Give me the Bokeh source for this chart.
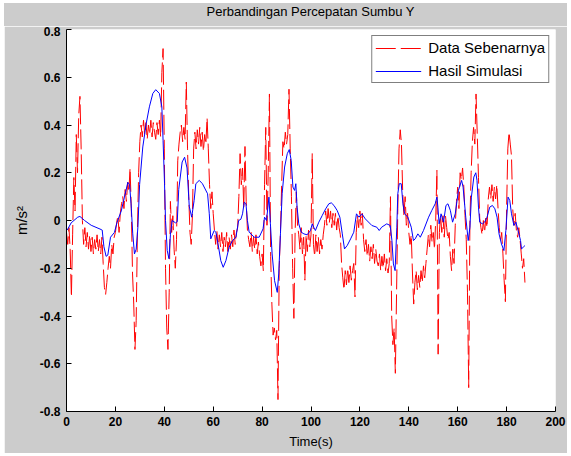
import numpy as np
from bokeh.plotting import figure
from bokeh.models import Range1d, FixedTicker, Legend, LegendItem, Spacer, Div
from bokeh.layouts import column, row
from bokeh.embed import file_html
from bokeh.resources import INLINE

title_text = "Perbandingan Percepatan Sumbu Y"
x_label = "Time(s)"
y_label = "m/s²"
series_names = ["Data Sebenarnya", "Hasil Simulasi"]
x_ticks = [0, 20, 40, 60, 80, 100, 120, 140, 160, 180, 200]
y_ticks = [-0.8, -0.6, -0.4, -0.2, 0.0, 0.2, 0.4, 0.6, 0.8]
y_tick_labels = ["-0.8", "-0.6", "-0.4", "-0.2", "0", "0.2", "0.4", "0.6", "0.8"]

# measured data ("Data Sebenarnya"), one sample every 0.5 s starting at t = 0
red_step = 0.5
red_value = [
    -0.05, -0.10, -0.03, -0.12, -0.32, -0.06, 0.18, 0.04, 0.36, 0.20,
    0.44, 0.52, 0.30, 0.00, -0.10, -0.03, -0.11, -0.05, -0.12, -0.06,
    -0.13, -0.07, -0.14, -0.08, -0.12, -0.06, -0.13, -0.08, -0.14, -0.07,
    -0.18, -0.28, -0.31, -0.26, -0.20, -0.15, -0.20, -0.10, -0.14, -0.07,
    -0.05, -0.01, 0.02, -0.05, 0.03, 0.07, 0.10, 0.05, 0.13, 0.08,
    0.16, 0.12, 0.22, 0.05, -0.22, -0.35, -0.54, -0.42, -0.05, 0.20,
    0.33, 0.40, 0.35, 0.42, 0.36, 0.41, 0.34, 0.40, 0.36, 0.42,
    0.35, 0.41, 0.37, 0.34, 0.41, 0.36, 0.42, 0.35, 0.62, 0.72,
    0.30, -0.20, -0.45, -0.54, -0.30, 0.08, -0.05, 0.02, -0.12, -0.20,
    -0.08, 0.25, 0.32, 0.37, 0.40, 0.33, 0.39, 0.34, 0.58, 0.30,
    0.10, -0.05, -0.10, 0.02, 0.30, 0.37, 0.30, 0.38, 0.32, 0.39,
    0.31, 0.37, 0.29, 0.36, 0.32, 0.43, 0.30, 0.15, 0.05, 0.12,
    0.03, -0.04, -0.10, -0.04, -0.12, -0.06, -0.11, -0.05, -0.13, -0.07,
    -0.11, -0.05, -0.13, -0.07, -0.12, -0.06, -0.11, -0.04, -0.10, -0.05,
    -0.03, 0.10, 0.28, 0.15, 0.22, 0.05, 0.31, 0.08, -0.04, -0.08,
    -0.11, -0.05, -0.13, -0.07, -0.12, -0.06, -0.14, -0.09, -0.15, -0.19,
    -0.14, -0.21, 0.15, 0.39, -0.02, 0.20, 0.53, -0.15, -0.35, -0.48,
    -0.45, -0.50, -0.46, -0.75, -0.20, -0.05, 0.15, 0.33, 0.30, 0.37,
    0.32, 0.36, 0.55, 0.30, 0.10, -0.20, -0.41, -0.05, 0.12, -0.02,
    -0.06, -0.12, -0.03, -0.14, -0.07, -0.25, -0.06, -0.13, -0.04, -0.11,
    -0.06, 0.28, -0.10, -0.15, -0.06, -0.13, -0.07, -0.14, -0.08, -0.12,
    -0.06, -0.02, 0.04, -0.02, 0.05, -0.01, 0.04, -0.03, 0.03, -0.02,
    0.03, -0.04, 0.02, -0.03, -0.06, -0.18, -0.24, -0.29, -0.21, -0.27,
    -0.20, -0.26, -0.19, -0.25, -0.21, -0.18, -0.32, -0.05, 0.02, -0.03,
    0.04, -0.02, 0.03, -0.08, -0.13, -0.08, -0.15, -0.10, -0.17, -0.11,
    -0.16, -0.10, -0.18, -0.12, -0.17, -0.19, -0.14, -0.21, -0.15, -0.20,
    -0.14, -0.21, -0.16, -0.22, -0.18, 0.10, -0.40, -0.52, -0.45, -0.64,
    -0.30, 0.05, 0.30, 0.38, 0.32, 0.12, 0.02, 0.10, -0.02, 0.03,
    -0.05, -0.10, -0.06, -0.22, -0.35, -0.26, -0.21, -0.29, -0.23, -0.28,
    -0.21, -0.26, -0.19, -0.24, -0.18, -0.12, -0.06, -0.11, -0.02, -0.09,
    -0.05, -0.12, 0.00, 0.21, -0.56, -0.05, 0.02, -0.05, 0.02, -0.07,
    0.02, -0.03, -0.08, -0.05, -0.15, -0.21, -0.12, -0.18, -0.02, 0.08,
    0.14, 0.05, 0.20, 0.17, 0.22, 0.14, 0.02, -0.08, -0.30, -0.70,
    0.00, 0.20, 0.33, 0.39, 0.32, 0.53, 0.36, 0.18, 0.01, -0.03,
    -0.06, 0.00, -0.05, 0.01, -0.03, 0.09, 0.14, 0.09, 0.15, 0.08,
    0.14, 0.09, 0.15, 0.05, -0.03, -0.08, -0.05, -0.14, -0.25, -0.34,
    0.05, 0.30, 0.37, 0.32, 0.27, 0.05, -0.02, 0.03, -0.04, -0.07,
    -0.03, -0.08, -0.14, -0.20, -0.16, -0.26,
]

# simulation result ("Hasil Simulasi")
blue_time = [
    0.3, 1.9, 4.6, 5.5, 7.4, 10.1, 14.2, 14.6, 15.3, 16.2,
    16.9, 18.0, 19.6, 20.7, 22.4, 23.7, 25.1, 25.8, 26.4, 27.1,
    27.8, 28.5, 29.2, 29.9, 31.2, 32.6, 33.9, 35.3, 36.5, 38.0,
    39.0, 39.5, 40.1, 40.5, 41.2, 41.9, 42.5, 43.2, 44.6, 45.3,
    45.9, 47.3, 48.3, 49.3, 50.2, 51.2, 52.2, 52.9, 54.3, 55.6,
    57.7, 58.4, 59.0, 60.4, 61.1, 62.2, 63.1, 64.1, 65.2, 66.5,
    67.9, 69.3, 70.4, 71.3, 72.0, 72.7, 73.4, 74.0, 74.7, 76.8,
    78.8, 80.4, 81.0, 81.8, 82.8, 83.4, 84.1, 85.1, 86.2, 86.8,
    87.5, 88.2, 89.2, 90.3, 91.1, 91.9, 92.6, 93.3, 93.8, 94.3,
    95.0, 96.0, 97.1, 98.4, 99.8, 100.5, 101.1, 101.8, 103.2, 104.6,
    106.0, 107.3, 108.3, 109.4, 110.7, 111.8, 112.8, 113.7, 114.8, 116.2,
    117.5, 118.6, 119.6, 120.8, 122.2, 124.9, 126.9, 127.9, 128.9, 131.0,
    132.4, 133.1, 133.7, 134.4, 135.1, 135.5, 136.1, 136.9, 137.6, 138.3,
    139.6, 141.0, 141.9, 142.6, 143.7, 144.7, 146.0, 148.1, 149.4, 150.8,
    151.5, 151.9, 152.4, 153.2, 154.2, 155.2, 156.0, 157.0, 157.9, 159.0,
    160.3, 161.6, 162.2, 163.3, 164.3, 165.0, 165.6, 166.6, 167.4, 167.9,
    168.5, 169.0, 170.1, 171.0, 172.0, 173.1, 174.2, 175.2, 176.1, 176.9,
    177.9, 178.9, 179.7, 180.6, 181.3, 182.0, 183.0, 183.8, 184.7, 185.7,
    186.1, 186.8, 187.5,
]
blue_value = [
    -0.04, -0.01, 0.014, 0.017, 0.0, -0.02, -0.038, -0.04, -0.11, -0.15,
    -0.145, -0.07, -0.05, -0.007, 0.04, 0.098, 0.16, 0.15, 0.07, -0.056,
    -0.14, -0.12, -0.028, 0.15, 0.308, 0.406, 0.476, 0.532, 0.548, 0.532,
    0.476, 0.336, 0.154, 0.0, -0.126, -0.16, -0.06, 0.0, -0.01, -0.005,
    0.13, 0.245, 0.265, 0.22, 0.06, 0.014, 0.084, 0.154, 0.168, 0.154,
    0.112, 0.028, -0.077, -0.042, -0.049, -0.112, -0.168, -0.196, -0.168, -0.112,
    -0.084, -0.07, 0.0, 0.005, 0.028, 0.077, 0.07, 0.0, -0.049, -0.07,
    -0.07, -0.035, 0.014, 0.0, 0.098, -0.014, -0.14, -0.252, -0.301, -0.224,
    -0.056, 0.112, 0.224, 0.28, 0.297, 0.252, 0.14, 0.126, 0.154, 0.056,
    -0.014, -0.049, -0.056, -0.06, -0.042, -0.014, -0.028, -0.042, -0.007, 0.021,
    0.049, 0.07, 0.074, 0.063, 0.042, 0.014, -0.056, -0.119, -0.105, -0.077,
    -0.049, 0.028, 0.014, 0.028, 0.007, -0.021, -0.028, -0.042, -0.028, -0.014,
    -0.021, -0.084, -0.182, -0.21, -0.028, 0.112, 0.154, 0.154, 0.07, 0.028,
    0.014, -0.028, -0.084, -0.077, -0.056, -0.07, -0.042, 0.014, 0.042, 0.07,
    0.098, 0.056, -0.014, 0.028, -0.007, 0.063, 0.07, 0.042, -0.007, 0.028,
    0.126, 0.168, 0.14, 0.014, -0.084, -0.028, 0.098, 0.182, 0.2, 0.168,
    0.056, -0.007, -0.014, -0.007, 0.014, 0.056, 0.063, 0.049, 0.014, -0.056,
    -0.098, -0.126, -0.042, 0.098, 0.084, 0.028, -0.021, -0.007, -0.042, -0.084,
    -0.119, -0.112, -0.105,
]

red_time = np.arange(len(red_value)) * red_step

FONT = "Liberation Sans"

p = figure(
    width=563, height=427,
    x_range=Range1d(0, 200), y_range=Range1d(-0.8, 0.8),
    output_backend="svg", toolbar_location=None,
    min_border_left=62, min_border_right=12, min_border_top=3, min_border_bottom=42,
    background_fill_color="white", border_fill_color="#cccccc",
    outline_line_color=None,
)

# title in a grey strip above the plot, centred over the plot frame
title_div = Div(
    text=title_text, width=563, height=23, margin=0,
    styles={
        "background-color": "#cccccc",
        "font-family": FONT,
        "font-size": "13px",
        "color": "black",
        "text-align": "center",
        "line-height": "18px",
        "padding-left": "50px",
        "box-sizing": "border-box",
    },
)

p.xgrid.visible = False
p.ygrid.visible = False

for ax in (p.xaxis[0], p.yaxis[0]):
    ax.axis_line_color = "black"
    ax.axis_line_width = 1
    ax.major_tick_line_color = "black"
    ax.major_tick_in = 5
    ax.major_tick_out = 0
    ax.minor_tick_line_color = None
    ax.major_label_text_font = FONT
    ax.major_label_text_font_size = "12px"
    ax.major_label_text_font_style = "bold"
    ax.major_label_text_color = "black"
    ax.axis_label_text_font = FONT
    ax.axis_label_text_font_size = "13px"
    ax.axis_label_text_font_style = "normal"
    ax.axis_label_text_color = "black"

p.xaxis.ticker = FixedTicker(ticks=x_ticks)
p.yaxis.ticker = FixedTicker(ticks=y_ticks)
p.yaxis.major_label_overrides = {t: l for t, l in zip(y_ticks, y_tick_labels)}
p.xaxis.axis_label = x_label
p.yaxis.axis_label = y_label
p.yaxis.axis_label_text_font_size = "15px"
p.xaxis.major_label_standoff = 5
p.xaxis.axis_label_standoff = 5
p.yaxis.major_label_standoff = 6
p.yaxis.axis_label_standoff = 7

r_red = p.line(red_time, red_value, line_color="#ff0000", line_width=1, line_dash="20 5")
r_blue = p.line(blue_time, blue_value, line_color="#0000ff", line_width=1)

legend = Legend(
    items=[LegendItem(label=series_names[0], renderers=[r_red]),
           LegendItem(label=series_names[1], renderers=[r_blue])],
    location="top_right",
    border_line_color="black", border_line_width=1,
    background_fill_color="white", background_fill_alpha=1.0,
    label_text_font=FONT, label_text_font_size="15px", label_text_color="black",
    glyph_width=46, glyph_height=16, label_height=16, label_standoff=7,
    padding=3, spacing=6, margin=6,
)
p.add_layout(legend)

layout = column(
    Spacer(height=3),
    row(Spacer(width=4), column(title_div, p, spacing=0), spacing=0),
    spacing=0,
)

open("out.html", "w").write(file_html(layout, INLINE))
